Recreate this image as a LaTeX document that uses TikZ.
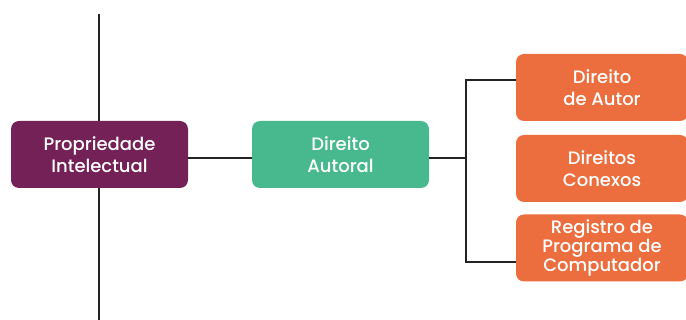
\documentclass[tikz,border=0pt]{standalone}
\usepackage{fontspec}
\setmainfont{Poppins}[UprightFont={* Medium}, BoldFont={* SemiBold}]
\definecolor{piPurple}{RGB}{116,33,87}
\definecolor{daGreen}{RGB}{72,185,143}
\definecolor{orOrange}{RGB}{236,110,62}
\definecolor{lineGray}{RGB}{35,35,35}
\tikzset{
  box/.style={rounded corners=8pt, minimum width=177pt, minimum height=67pt, text=white, align=center, inner sep=0pt, font=\fontsize{18pt}{22pt}\selectfont},
  obox/.style={box, fill=orOrange, minimum width=172pt},
  conn/.style={draw=lineGray, line width=1.5pt}
}
\begin{document}
\begin{tikzpicture}[x=1pt,y=-1pt]
\useasboundingbox (0,0) rectangle (686,320);
\node[box, fill=piPurple] (pi) at (99.5,154.5) {Propriedade\\Intelectual};
\node[box, fill=daGreen] (da) at (340.5,154.5) {Direito\\Autoral};
\node[obox] (o1) at (602,87.5) {Direito\\de Autor};
\node[obox] (o2) at (602,168.5) {Direitos\\Conexos};
\node[obox, font=\fontsize{18pt}{17.5pt}\selectfont] (o3) at (602,248) {Registro de\\Programa de\\Computador};
\coordinate (ptop) at (99,14);
\coordinate (pbot) at (99,322);
\coordinate (jm) at (466,158);
\coordinate (jt) at (466,80);
\coordinate (jb) at (466,262);
\draw[conn] (pi.north -| ptop) -- (ptop);
\draw[conn] (pi.south -| pbot) -- (pbot);
\draw[conn] (pi.east |- jm) -- (da.west |- jm);
\draw[conn] (da.east |- jm) -- (jm);
\draw[conn] (o1.west |- jt) -- (jt) -- (jb) -- (o3.west |- jb);
\end{tikzpicture}
\end{document}
